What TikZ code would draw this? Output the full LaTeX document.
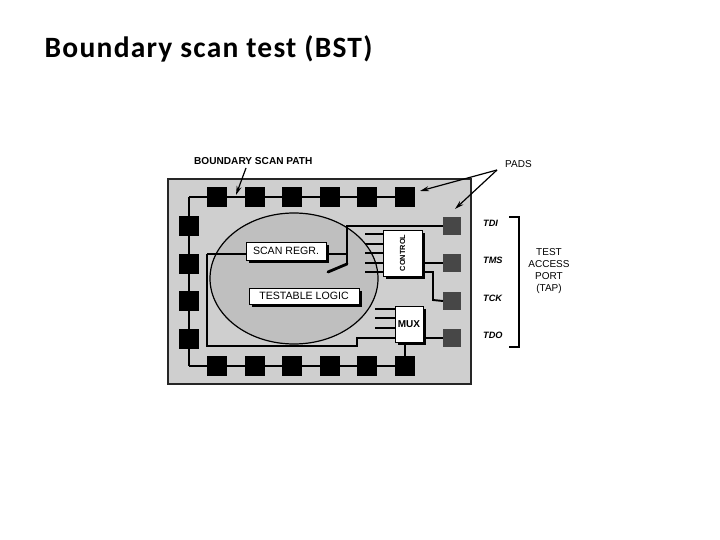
\documentclass[tikz,border=0pt]{standalone}
\usepackage{fontspec}
\setmainfont{Liberation Sans}
\newfontfamily\titlefont[LetterSpace=4.2]{Carlito}
\usepackage{tikz}
\usetikzlibrary{shapes.geometric, arrows.meta, positioning, shadows}

\begin{document}
\begin{tikzpicture}[
    x=1pt, y=-1pt,
    node distance=17.6pt,
    chipbody/.style={draw=black!85, line width=1.2pt, fill=gray!38},
    corearea/.style={draw=black, line width=1.2pt, fill=gray!50},
    pad/.style={rectangle, fill=black, minimum size=20pt, inner sep=0pt, outer sep=0pt},
    tappad/.style={rectangle, fill=black!72, minimum size=18pt, inner sep=0pt, outer sep=0pt},
    blockbox/.style={rectangle, draw=black, fill=white, line width=0.8pt, inner sep=0pt, outer sep=0pt, font=\fontsize{10.6}{12}\selectfont,
        drop shadow={shadow xshift=2.5pt, shadow yshift=-2.5pt, fill=black, opacity=1}},
    wire/.style={line width=1.9pt, black},
    callout/.style={line width=1.2pt, black, -{Stealth[length=9pt, width=5pt]}},
    caption/.style={font=\bfseries\fontsize{10.1}{12}\selectfont, inner sep=0pt},
    portname/.style={font=\itshape\bfseries\fontsize{9.2}{10}\selectfont, inner sep=0pt}
]
    \useasboundingbox (0,0) rectangle (720,540);

    \node (title) [anchor=base west, inner sep=0pt, font=\titlefont\bfseries\fontsize{29.5}{34}\selectfont] at (44.5,57.5) {Boundary scan test (BST)};

    \draw [chipbody] (168,179) rectangle (471,384);
    \node (core) [ellipse, corearea, minimum width=168pt, minimum height=131pt, inner sep=0pt] at (294,278.5) {};

    \node (top1) [pad] at (217,197) {};
    \node (top2) [pad, right=of top1] {};
    \node (top3) [pad, right=of top2] {};
    \node (top4) [pad, right=of top3] {};
    \node (top5) [pad, right=of top4] {};
    \node (top6) [pad, right=of top5] {};

    \node (bot1) [pad] at (217,366) {};
    \node (bot2) [pad, right=of bot1] {};
    \node (bot3) [pad, right=of bot2] {};
    \node (bot4) [pad, right=of bot3] {};
    \node (bot5) [pad, right=of bot4] {};
    \node (bot6) [pad, right=of bot5] {};

    \node (left1) [pad] at (189,226) {};
    \node (left2) [pad, below=of left1] {};
    \node (left3) [pad, below=of left2] {};
    \node (left4) [pad, below=of left3] {};

    \node (tdipad) [tappad] at (452,226) {};
    \node (tmspad) [tappad] at (452,263) {};
    \node (tckpad) [tappad] at (452,301) {};
    \node (tdopad) [tappad] at (452,338) {};

    \coordinate (cornertop) at (189,197);
    \coordinate (cornerbot) at (189,366);
    \coordinate (innerleft) at (207,254);
    \coordinate (innerbot) at (207,346);
    \coordinate (stepbot) at (357,346);
    \coordinate (stepmux) at (357,338);
    \coordinate (scanup) at (347,254);
    \coordinate (scantop) at (347,226);
    \coordinate (scanlow) at (347,264);
    \coordinate (scanstub) at (328,272);
    \coordinate (ctrlout) at (433,272);
    \coordinate (ctrldown) at (433,300);

    \draw [wire] (cornertop) -- (top6);
    \draw [wire] (cornertop) -- (cornerbot);
    \draw [wire] (cornerbot) -- (bot6);

    \node (testlogic) [blockbox, minimum width=110pt, minimum height=16pt] at (304,296) {TESTABLE LOGIC};

    \draw [wire] (innerleft) -- (innerbot) -- (stepbot) -- (stepmux) -- (395,338);
    \draw [wire] (innerleft) -- (250,254);
    \draw [wire] (322,254) -- (scanup);
    \draw [wire] (scanlow) -- (scantop) -- (tdipad.west);
    \draw [line width=2.8pt, line cap=round] (scanstub) -- (scanlow);

    \foreach \ypos in {234,244,253,263,272} {
        \draw [wire] (365,\ypos) -- (385,\ypos);
    }
    \foreach \ypos in {309,318,328} {
        \draw [wire] (375,\ypos) -- (397,\ypos);
    }

    \node (scanregr) [blockbox, minimum width=80pt, minimum height=18pt] at (286,251) {SCAN REGR.};
    \node (control) [blockbox, minimum width=39pt, minimum height=46pt] at (402.5,253) {\rotatebox{90}{\bfseries\fontsize{7.4}{9}\selectfont CONTROL}};
    \node (mux) [blockbox, minimum width=28pt, minimum height=36pt, font=\bfseries\fontsize{10}{12}\selectfont] at (409,324) {MUX};

    \draw [wire] (control.east |- tmspad) -- (tmspad.west);
    \draw [wire] (control.east |- ctrlout) -- (ctrlout) -- (ctrldown) -- (tckpad.west);
    \draw [wire] (mux.east |- tdopad) -- (tdopad.west);
    \draw [wire] (bot6 |- mux.south) -- (bot6.north);

    \node (pathlabel) [caption, anchor=west] at (194,161) {BOUNDARY SCAN PATH};
    \node (padslabel) [caption, anchor=west, font=\fontsize{10}{12}\selectfont] at (505,164) {PADS};
    \coordinate (pathtail) at (246,168);
    \coordinate (pathtip) at (236,195);
    \coordinate (padstail) at (497,170);
    \coordinate (padstipa) at (420,191);
    \coordinate (padstipb) at (455,209);
    \draw [callout] (pathtail) -- (pathtip);
    \draw [callout] (padstail) -- (padstipa);
    \draw [callout] (padstail) -- (padstipb);

    \node (tdi) [portname, anchor=west] at (483,223) {TDI};
    \node (tms) [portname, anchor=west] at (483,260) {TMS};
    \node (tck) [portname, anchor=west] at (483,298) {TCK};
    \node (tdo) [portname, anchor=west] at (483,335) {TDO};

    \coordinate (bracetop) at (509,217);
    \coordinate (bracebot) at (509,347);
    \draw [line width=1.2pt] (bracetop) -- (519,217) -- (519,347) -- (bracebot);

    \node (tap) [align=center, inner sep=0pt, font=\fontsize{10}{12}\selectfont] at (549,271) {TEST\\ACCESS\\PORT\\(TAP)};
\end{tikzpicture}
\end{document}
